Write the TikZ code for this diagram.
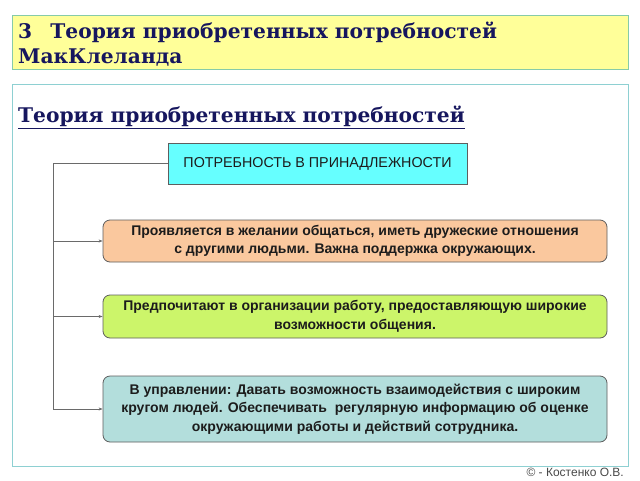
\documentclass[tikz,border=0pt]{standalone}
\usepackage{fontspec}
\setmainfont{Liberation Sans}
\newfontfamily\titlefont{DejaVu Serif}
\usetikzlibrary{arrows.meta}
\definecolor{navy}{HTML}{16165E}
\definecolor{titlefill}{HTML}{FFFF99}
\definecolor{titleframe}{HTML}{86CBA8}
\definecolor{mainframe}{HTML}{8ED0D2}
\definecolor{cyanfill}{HTML}{66FFFF}
\definecolor{orangefill}{HTML}{FAC89E}
\definecolor{greenfill}{HTML}{CCF56A}
\definecolor{tealfill}{HTML}{B3DEDC}
\definecolor{boxframe}{HTML}{5E5E5E}
\definecolor{connline}{HTML}{6A6A6A}
\definecolor{textdark}{HTML}{1C1C1C}
\tikzset{
  framebox/.style={draw=#1, line width=1pt, inner sep=0pt},
  headtext/.style={font=\titlefont\bfseries\fontsize{20.2}{25}\selectfont, text=navy, anchor=west, align=left, inner sep=0pt},
  topbox/.style={draw=boxframe, line width=0.8pt, fill=cyanfill, minimum width=299pt, minimum height=41pt, font=\fontsize{14.3}{16}\selectfont, text=textdark, inner sep=2pt},
  itembox/.style={draw=boxframe, line width=0.8pt, rounded corners=7pt, minimum width=504pt, font=\bfseries\fontsize{14}{18.5}\selectfont, text=textdark, align=center, inner sep=2pt},
  conn/.style={draw=connline, line width=0.8pt},
  connarrow/.style={conn, -{Stealth[length=4pt,width=3pt]}}
}
\begin{document}
\begin{tikzpicture}[x=1pt,y=-1pt]
\useasboundingbox (0,0) rectangle (640,480);
\fill[white] (0,0) rectangle (640,480);
% title frame
\node[framebox=titleframe, fill=titlefill, minimum width=616pt, minimum height=54pt] (tbox) at (320,42) {};
\node[headtext] (ttext) at (18,44) {3\hspace{0.9em}Теория приобретенных потребностей\\МакКлеланда};
% main frame
\node[framebox=mainframe, fill=white, minimum width=616pt, minimum height=382pt] (mbox) at (320,275) {};
\node[headtext] (sub) at (18,117) {\underline{Теория приобретенных потребностей}};
% boxes
\node[topbox] (top) at (317.5,163.5) {ПОТРЕБНОСТЬ В ПРИНАДЛЕЖНОСТИ};
\node[itembox, fill=orangefill, minimum height=42pt] (b1) at (355,241) {Проявляется в желании общаться, иметь дружеские отношения\\с другими людьми. Важна поддержка окружающих.};
\node[itembox, fill=greenfill, minimum height=43pt] (b2) at (355,316.5) {Предпочитают в организации работу, предоставляющую широкие\\возможности общения.};
\node[itembox, fill=tealfill, minimum height=66pt] (b3) at (355,409) {В управлении: Давать возможность взаимодействия с широким\\кругом людей. Обеспечивать\ \ регулярную информацию об оценке\\окружающими работы и действий сотрудника.};
% connectors
\coordinate (bend) at (53,409);
\draw[conn] (top.west) -| (bend);
\draw[connarrow] (bend) -- (b3.west);
\draw[connarrow] (bend |- b1.west) -- (b1.west);
\draw[connarrow] (bend |- b2.west) -- (b2.west);
% copyright
\node[anchor=east, font=\fontsize{12}{14}\selectfont, text=textdark!80, inner sep=0pt] (copy) at (624,472) {© - Костенко О.В.};
\end{tikzpicture}
\end{document}
